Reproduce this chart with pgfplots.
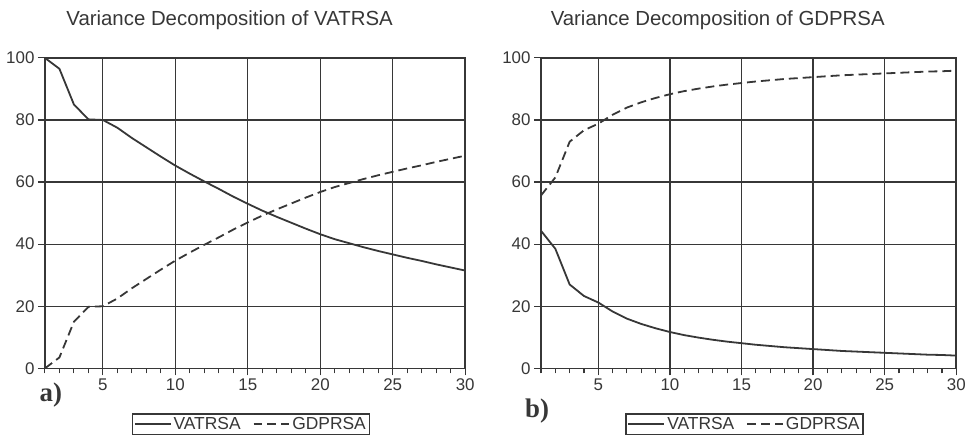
\documentclass[border=0pt]{standalone}
\usepackage{pgfplots}
\pgfplotsset{compat=1.18}
\usepackage{pgfplotstable}
\usepackage{fontspec}
\setmainfont{Liberation Sans}
\newfontfamily\serifb{Liberation Serif}
\definecolor{ink}{RGB}{55,55,55}

\pgfplotstableread{
x v g
1 100.0 0.0
2 96.5 3.5
3 85.0 15.0
4 80.2 19.8
5 80.0 20.0
6 77.5 22.5
7 74.2 25.8
8 71.2 28.8
9 68.2 31.8
10 65.3 34.7
11 62.7 37.3
12 60.2 39.8
13 57.8 42.2
14 55.3 44.7
15 53.0 47.0
16 50.8 49.2
17 48.8 51.2
18 46.9 53.1
19 45.0 55.0
20 43.2 56.8
21 41.6 58.4
22 40.3 59.7
23 39.0 61.0
24 37.8 62.2
25 36.7 63.3
26 35.6 64.4
27 34.6 65.4
28 33.5 66.5
29 32.5 67.5
30 31.5 68.5
}\dataA

\pgfplotstableread{
x v g
1 44.3 55.7
2 38.5 61.5
3 27.0 73.0
4 23.3 76.7
5 21.2 78.8
6 18.3 81.7
7 16.0 84.0
8 14.3 85.7
9 12.9 87.1
10 11.7 88.3
11 10.7 89.3
12 9.9 90.1
13 9.2 90.8
14 8.6 91.4
15 8.1 91.9
16 7.6 92.4
17 7.2 92.8
18 6.8 93.2
19 6.5 93.5
20 6.2 93.8
21 5.9 94.1
22 5.6 94.4
23 5.4 94.6
24 5.2 94.8
25 5.0 95.0
26 4.8 95.2
27 4.6 95.4
28 4.4 95.6
29 4.3 95.7
30 4.1 95.9
}\dataB

\pgfplotsset{vd/.style={
  scale only axis, height=311bp,
  xmin=1, xmax=30, ymin=0, ymax=100,
  xtick={5,10,...,30}, minor xtick={1,...,30},
  ytick={0,20,...,100},
  xtick pos=bottom, ytick pos=left,
  tick align=outside,
  major tick length=7bp, minor tick length=5bp,
  grid=major,
  major grid style={ink, line width=1.2bp},
  axis line style={ink, line width=1.6bp},
  tick style={ink, line width=1.2bp},
  minor tick style={ink, line width=1.1bp},
  tick label style={font=\fontsize{17}{17}\selectfont, text=ink},
  /pgf/number format/assume math mode=true,
  legend columns=2,
  legend style={draw=ink, line width=1.3bp, anchor=center,
    at={(axis description cs:0.49,-0.18)},
    font=\fontsize{17.5}{17.5}\selectfont, text=ink,
    inner sep=1.5bp,
    /tikz/every even column/.append style={column sep=10bp}},
  legend image code/.code={\draw[##1] (0bp,0bp) -- (36bp,0bp);},
  solidl/.style={ink, line width=1.8bp},
  dashl/.style={ink, line width=1.8bp, dash pattern=on 9bp off 5bp},
}}

\begin{document}
\begin{tikzpicture}
\path (0,0) rectangle (969bp,440bp);
\begin{axis}[vd, width=421bp, at={(45bp,71bp)}, anchor=south west]
\addplot[solidl] table[x=x,y=v]{\dataA};
\addlegendentry{VATRSA}
\addplot[dashl] table[x=x,y=g]{\dataA};
\addlegendentry{GDPRSA}
\end{axis}
\begin{axis}[vd, width=416bp, at={(542bp,71bp)}, anchor=south west]
\addplot[solidl] table[x=x,y=v]{\dataB};
\addlegendentry{VATRSA}
\addplot[dashl] table[x=x,y=g]{\dataB};
\addlegendentry{GDPRSA}
\end{axis}
\node[text=ink, font=\fontsize{20.5}{20.5}\selectfont] at (230bp,420bp) {Variance Decomposition of VATRSA};
\node[text=ink, font=\fontsize{20.5}{20.5}\selectfont] at (719bp,420bp) {Variance Decomposition of GDPRSA};
\node[text=ink, font=\serifb\bfseries\fontsize{27}{27}\selectfont] at (51bp,44bp) {a)};
\node[text=ink, font=\serifb\bfseries\fontsize{27}{27}\selectfont] at (538bp,28bp) {b)};
\end{tikzpicture}
\end{document}
